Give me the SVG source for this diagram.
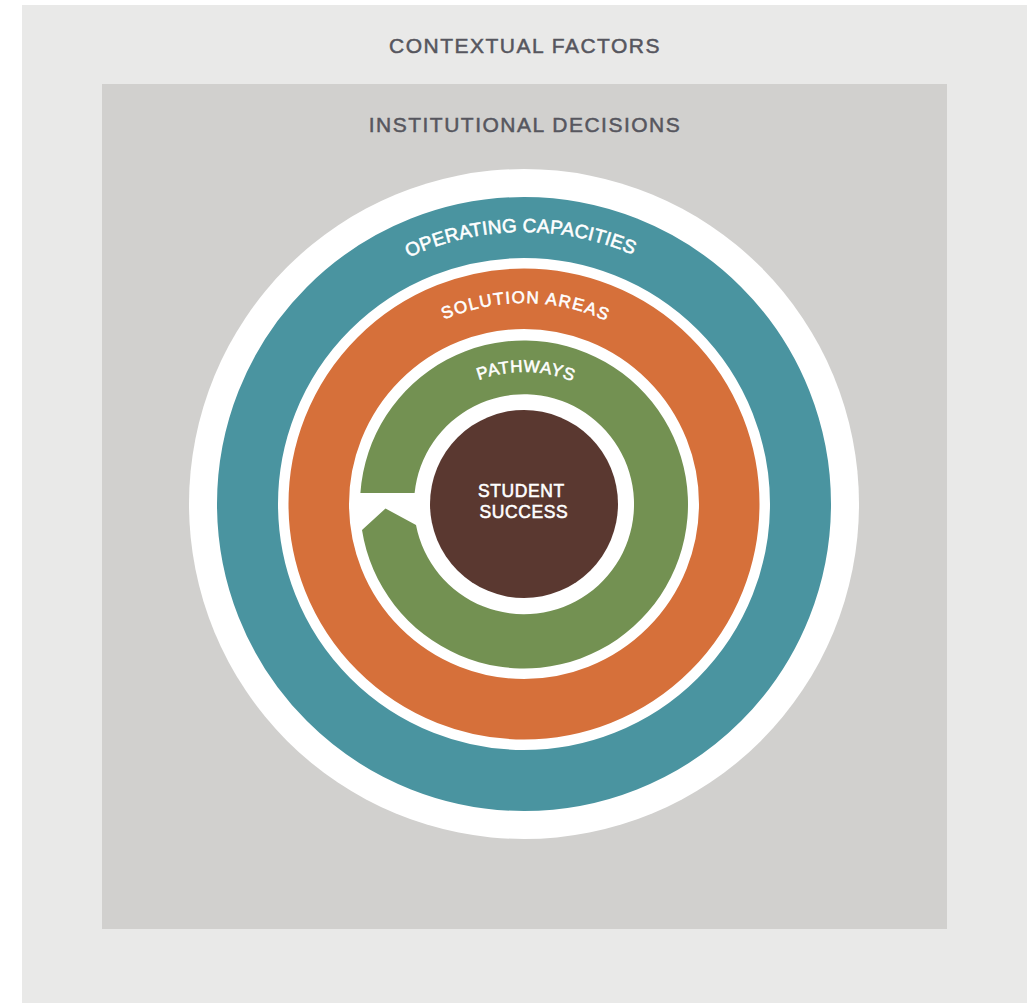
<svg xmlns="http://www.w3.org/2000/svg" width="1033" height="1003" viewBox="0 0 1033 1003">
  <style>
    .label { font-family: "Liberation Sans", Arial, sans-serif; font-weight: normal; fill: #56565e; stroke: #56565e; stroke-width: 0.5px; text-anchor: middle; letter-spacing: 1.5px; }
    .ring-label { font-family: "Liberation Sans", Arial, sans-serif; fill: #ffffff; stroke: #ffffff; stroke-width: 0.55px; text-anchor: middle; }
    .ring { fill: none; }
  </style>
  <defs>
    <path id="arcOC" d="M 252 504 A 272 272 0 0 1 796 504"/>
    <path id="arcSA" d="M 323 504 A 201 201 0 0 1 725 504"/>
    <path id="arcPW" d="M 392 504 A 132 132 0 0 1 656 504"/>
  </defs>
  <rect x="0" y="0" width="1033" height="1003" fill="#ffffff"/>
  <g id="contextual-factors">
    <rect x="22" y="5" width="1005" height="998" fill="#e9e9e8"/>
    <text class="label" x="525" y="53" font-size="21">CONTEXTUAL FACTORS</text>
  </g>
  <g id="institutional-decisions">
    <rect x="102" y="84" width="845" height="845" fill="#d1d0ce"/>
    <text class="label" x="525" y="132" font-size="21">INSTITUTIONAL DECISIONS</text>
  </g>
  <g id="background-circle">
    <circle cx="524" cy="504" r="335" fill="#ffffff"/>
  </g>
  <g id="operating-capacities">
    <circle class="ring" cx="524" cy="504" r="276.5" stroke="#4a94a0" stroke-width="61"/>
    <text class="ring-label" font-size="19" letter-spacing="0.2"><textPath href="#arcOC" startOffset="49.6%">OPERATING CAPACITIES</textPath></text>
  </g>
  <g id="solution-areas">
    <circle class="ring" cx="524" cy="504" r="205.25" stroke="#d6703a" stroke-width="60.5"/>
    <text class="ring-label" font-size="17" letter-spacing="1.4"><textPath href="#arcSA" startOffset="50.3%">SOLUTION AREAS</textPath></text>
  </g>
  <g id="pathways">
    <path fill="#739152" d="M 362 530 L 385.5 508.5 L 416 525 A 110 110 0 1 0 414.6 493 L 360.4 493 A 164 164 0 1 1 362 530 Z"/>
    <text class="ring-label" font-size="17" letter-spacing="0.7"><textPath href="#arcPW" startOffset="50.5%">PATHWAYS</textPath></text>
  </g>
  <g id="student-success">
    <circle cx="524" cy="504" r="94" fill="#5a3830"/>
    <text class="ring-label" font-size="17.5" letter-spacing="0.6">
      <tspan x="524" y="497">STUDENT</tspan>
      <tspan x="524" y="518">SUCCESS</tspan>
    </text>
  </g>
  <g id="connectors"></g>
</svg>
